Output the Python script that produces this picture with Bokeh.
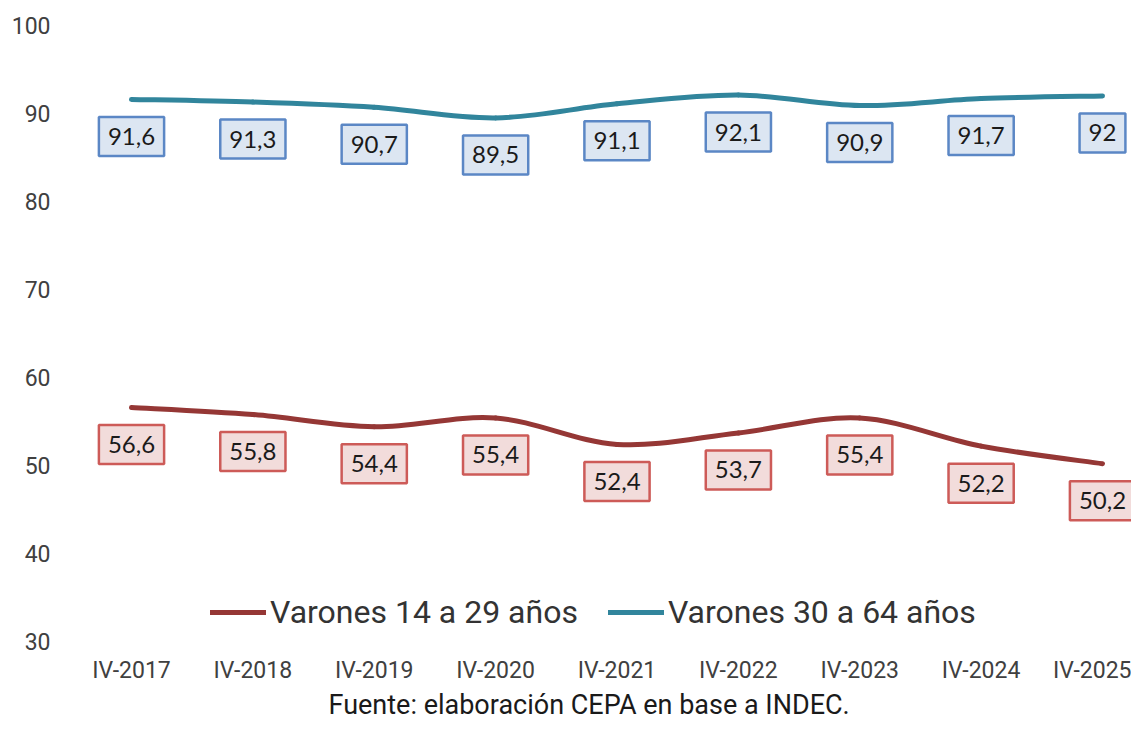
from bokeh.plotting import figure
from bokeh.models import Range1d, FixedTicker, Legend, LegendItem, ColumnDataSource, Title
from bokeh.core.properties import value
from bokeh.embed import file_html
from bokeh.resources import INLINE

categories = ["IV-2017", "IV-2018", "IV-2019", "IV-2020", "IV-2021",
              "IV-2022", "IV-2023", "IV-2024", "IV-2025"]
jovenes = [56.6, 55.8, 54.4, 55.4, 52.4, 53.7, 55.4, 52.2, 50.2]
adultos = [91.6, 91.3, 90.7, 89.5, 91.1, 92.1, 90.9, 91.7, 92.0]
series_names = ["Varones 14 a 29 años", "Varones 30 a 64 años"]
y_ticks = [30, 40, 50, 60, 70, 80, 90, 100]
source_text = "Fuente: elaboración CEPA en base a INDEC."

RED = "#953735"
TEAL = "#31859C"

p = figure(width=1131, height=720, output_backend="svg", toolbar_location=None,
           x_range=Range1d(-0.5026, 8.239), y_range=Range1d(30, 100),
           min_border_left=70, min_border_right=0, min_border_top=25,
           min_border_bottom=76)
p.outline_line_color = None
p.xgrid.visible = False
p.ygrid.visible = False
p.background_fill_color = "white"
p.border_fill_color = "white"

idx = list(range(len(categories)))


def bezier_source(vals):
    n = len(vals)
    pts = list(zip(idx, vals))
    d = dict(x0=[], y0=[], x1=[], y1=[], cx0=[], cy0=[], cx1=[], cy1=[])
    for i in range(n - 1):
        pm = pts[i - 1] if i > 0 else pts[i]
        p0 = pts[i]
        p1 = pts[i + 1]
        p2 = pts[i + 2] if i + 2 < n else pts[i + 1]
        d["x0"].append(p0[0]); d["y0"].append(p0[1])
        d["x1"].append(p1[0]); d["y1"].append(p1[1])
        d["cx0"].append(p0[0] + (p1[0] - pm[0]) / 6)
        d["cy0"].append(p0[1] + (p1[1] - pm[1]) / 6)
        d["cx1"].append(p1[0] - (p2[0] - p0[0]) / 6)
        d["cy1"].append(p1[1] - (p2[1] - p0[1]) / 6)
    return ColumnDataSource(d)


r1 = p.bezier(x0="x0", y0="y0", x1="x1", y1="y1", cx0="cx0", cy0="cy0",
              cx1="cx1", cy1="cy1", source=bezier_source(jovenes),
              line_color=RED, line_width=5, line_cap="round")
r2 = p.bezier(x0="x0", y0="y0", x1="x1", y1="y1", cx0="cx0", cy0="cy0",
              cx1="cx1", cy1="cy1", source=bezier_source(adultos),
              line_color=TEAL, line_width=5, line_cap="round")


def fmt(v):
    s = ("%.1f" % v).replace(".", ",")
    if s.endswith(",0"):
        s = s[:-2]
    return s


for vals, border, fill in [(jovenes, "#CD5B58", "#F2DCDB"),
                           (adultos, "#5B87C5", "#DCE6F2")]:
    src = ColumnDataSource(dict(x=idx, y=vals, t=[fmt(v) for v in vals]))
    p.text(x="x", y="y", text="t", source=src, y_offset=37,
           text_align="center", text_baseline="middle",
           text_font=value("Lato"), text_font_size="24px", text_color="#1a1a1a",
           background_fill_color=fill, border_line_color=border,
           border_line_width=2.5,
           padding=dict(left=9, right=9, top=11, bottom=11))

p.yaxis.ticker = FixedTicker(ticks=y_ticks)
p.xaxis.ticker = FixedTicker(ticks=idx)
p.xaxis.major_label_overrides = {i: c for i, c in enumerate(categories)}
for ax in (p.xaxis[0], p.yaxis[0]):
    ax.axis_line_color = None
    ax.major_tick_line_color = None
    ax.minor_tick_line_color = None
    ax.major_tick_out = 0
    ax.major_label_text_font = "Roboto"
    ax.major_label_text_font_size = "23px"
    ax.major_label_text_color = "#404040"
p.yaxis.major_label_standoff = 20
p.xaxis.major_label_standoff = 15

legend = Legend(items=[LegendItem(label=series_names[0], renderers=[r1]),
                       LegendItem(label=series_names[1], renderers=[r2])],
                orientation="horizontal", location=(140, 10),
                label_text_font="Roboto", label_text_font_size="32px",
                label_text_color="#333333", glyph_width=56, glyph_height=30,
                label_standoff=4, spacing=30, padding=4, margin=0,
                border_line_color=None, background_fill_alpha=0)
p.add_layout(legend)

p.add_layout(Title(text=source_text, align="left", offset=258, standoff=0,
                   text_font="Roboto", text_font_size="27px",
                   text_font_style="normal", text_color="#1a1a1a"), "below")

open("out.html", "w").write(file_html(p, INLINE))
